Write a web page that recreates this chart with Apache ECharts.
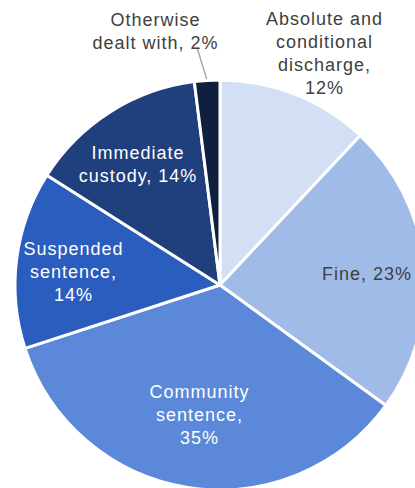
<!DOCTYPE html>
<html>
<head>
<meta charset="utf-8">
<script src="https://cdn.jsdelivr.net/npm/echarts@6/dist/echarts.min.js"></script>
<style>
  html, body { margin: 0; padding: 0; background: #ffffff; }
  #chart { width: 415px; height: 488px; letter-spacing: 1px; }
</style>
</head>
<body>
<div id="chart"></div>
<script>
// Sentence outcomes, share of offenders (%), clockwise from 12 o'clock
const categories = [
  'Absolute and\nconditional\ndischarge',
  'Fine',
  'Community\nsentence',
  'Suspended\nsentence',
  'Immediate\ncustody',
  'Otherwise\ndealt with'
];
const shares = [12, 23, 35, 14, 14, 2];
const labelTexts = [
  'Absolute and\nconditional\ndischarge,\n12%',
  'Fine, 23%',
  'Community\nsentence,\n35%',
  'Suspended\nsentence,\n14%',
  'Immediate\ncustody, 14%',
  'Otherwise\ndealt with, 2%'
];
const sliceColors = ['#d2dff5', '#a0bbe8', '#5b88d8', '#2a5dbe', '#1f3f7d', '#111f3f'];
const labelColors = ['#404040', '#404040', '#ffffff', '#ffffff', '#ffffff', '#404040'];

// Label placement: distance from centre as a fraction of the radius, plus a small nudge
const labelRadius = [1.24, 0.72, 0.64, 0.72, 0.71, 1.28];
const labelNudge = [[11, 5], [0, 3], [0, 0], [0, 5], [-4, 2], [-48, 8]];

const CX = 220, CY = 285, R = 205;

const total = shares.reduce((a, b) => a + b, 0);
const midAngles = [];
let acc = 0;
shares.forEach(v => {
  midAngles.push(((acc + v / 2) / total) * 2 * Math.PI);
  acc += v;
});

const chart = echarts.init(document.getElementById('chart'), null, { renderer: 'svg' });

chart.setOption({
  animation: false,
  backgroundColor: '#ffffff',
  series: [{
    type: 'pie',
    center: [CX, CY],
    radius: [0, R],
    startAngle: 90,
    clockwise: true,
    avoidLabelOverlap: false,
    itemStyle: { borderColor: '#ffffff', borderWidth: 3 },
    emphasis: { disabled: true },
    label: {
      show: true,
      position: 'outside',
      fontFamily: 'Liberation Sans, Arial, sans-serif',
      fontSize: 18,
      lineHeight: 23,
      align: 'center',
      formatter: p => labelTexts[p.dataIndex]
    },
    labelLine: { show: false },
    labelLayout: function (params) {
      const i = params.dataIndex;
      const a = midAngles[i];
      const x = CX + labelRadius[i] * R * Math.sin(a) + labelNudge[i][0];
      const y = CY - labelRadius[i] * R * Math.cos(a) + labelNudge[i][1];
      const out = { x: x, y: y, align: 'center', verticalAlign: 'middle' };
      if (i === shares.length - 1) {
        const ex = CX + R * Math.sin(a), ey = CY - R * Math.cos(a);
        out.labelLinePoints = [[ex, ey], [x + 42, y + 18], [x + 42, y + 18]];
      }
      return out;
    },
    data: shares.map((v, i) => ({
      name: categories[i],
      value: v,
      itemStyle: { color: sliceColors[i] },
      label: { color: labelColors[i] },
      labelLine: i === shares.length - 1
        ? { show: true, lineStyle: { color: '#a6a6a6', width: 1.5 } }
        : { show: false }
    }))
  }]
});
</script>
</body>
</html>
